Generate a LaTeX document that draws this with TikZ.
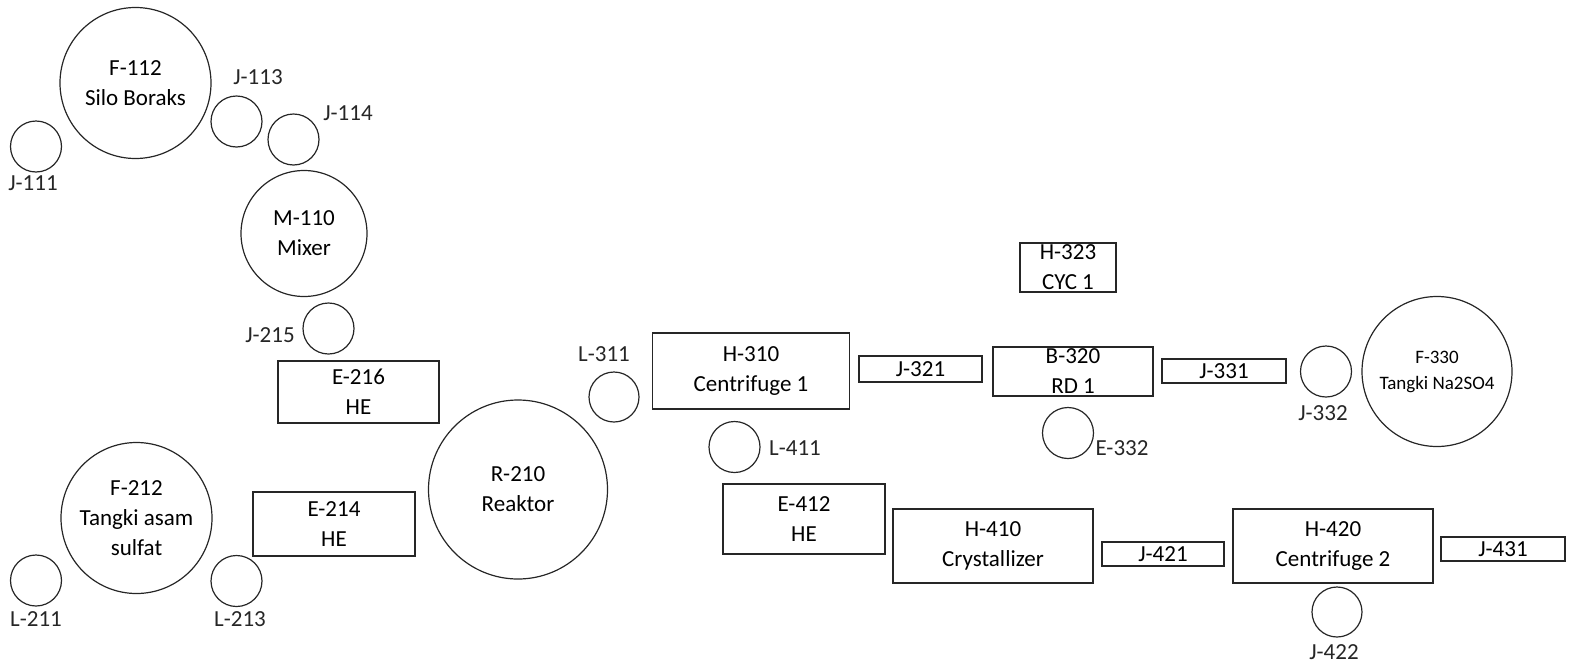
\documentclass[tikz,border=0pt]{standalone}
\usepackage{fontspec}
\setmainfont{Carlito}
\usepackage{tikz}

\newcommand{\eqfont}{\fontsize{23}{30}\selectfont}
\newcommand{\smallfont}{\fontsize{19}{26}\selectfont}

\begin{document}
\begin{tikzpicture}[
    x=1pt, y=-1pt,
    vessel/.style={circle, draw=black!85, line width=1.2pt, inner sep=0pt, align=center, font=\eqfont},
    pump/.style={circle, draw=black!85, line width=1.2pt, inner sep=0pt, minimum size=51pt},
    unit/.style={rectangle, draw=black!85, line width=1.2pt, inner sep=0pt, align=center, font=\eqfont},
    tag/.style={inner sep=0pt, font=\eqfont, text=black!85},
]
    \useasboundingbox (0,0) rectangle (1572,667);

    % Boraks feed
    \node[vessel, minimum size=151pt] (f112) at (135.5,83) {F-112\\Silo Boraks};
    \node[pump] (j111) at (36,146.5) {};
    \node[pump] (j113) at (236.5,121.5) {};
    \node[pump] (j114) at (293.5,139.5) {};
    \node[vessel, minimum size=126pt] (m110) at (304,233.5) {M-110\\Mixer};
    \node[pump] (j215) at (328.5,328.5) {};
    \node[unit, minimum width=161pt, minimum height=62pt] (e216) at (358.5,392) {E-216\\HE};

    % Acid feed
    \node[vessel, minimum size=151pt] (f212) at (136.5,518) {F-212\\Tangki asam\\sulfat};
    \node[pump] (l211) at (36,580.5) {};
    \node[pump] (l213) at (236.5,581) {};
    \node[unit, minimum width=162pt, minimum height=64pt] (e214) at (334,524) {E-214\\HE};

    % Reaction
    \node[vessel, minimum size=179pt] (r210) at (518,489.5) {R-210\\Reaktor};
    \node[pump, minimum size=50pt] (l311) at (614,397) {};

    % Separation and drying
    \node[unit, minimum width=197pt, minimum height=76pt] (h310) at (751,371) {H-310\\Centrifuge 1};
    \node[unit, minimum width=123pt, minimum height=26pt] (j321) at (920.5,369) {J-321};
    \node[unit, minimum width=96pt, minimum height=49pt] (h323) at (1068,267.5) {H-323\\CYC 1};
    \node[unit, minimum width=160pt, minimum height=49pt] (b320) at (1073,371.5) {B-320\\RD 1};
    \node[pump] (e332) at (1068,433) {};
    \node[unit, minimum width=124pt, minimum height=24pt] (j331) at (1224,371) {J-331};
    \node[pump] (j332) at (1326,371.5) {};
    \node[vessel, minimum size=150pt, font=\smallfont] (f330) at (1437,371.5) {F-330\\Tangki Na2SO4};

    % Crystallization
    \node[pump] (l411) at (734.5,447) {};
    \node[unit, minimum width=162pt, minimum height=70pt] (e412) at (804,519) {E-412\\HE};
    \node[unit, minimum width=200pt, minimum height=74pt] (h410) at (993,546) {H-410\\Crystallizer};
    \node[unit, minimum width=122pt, minimum height=24pt] (j421) at (1163,554) {J-421};
    \node[unit, minimum width=200pt, minimum height=74pt] (h420) at (1333,546) {H-420\\Centrifuge 2};
    \node[unit, minimum width=124pt, minimum height=24pt] (j431) at (1503,549) {J-431};
    \node[pump, minimum size=50pt] (j422) at (1337,612) {};

    % Tags
    \node[tag] (j111t) at (33,183) {J-111};
    \node[tag] (j113t) at (258,77) {J-113};
    \node[tag] (j114t) at (348,113) {J-114};
    \node[tag] (j215t) at (270,335) {J-215};
    \node[tag] (l211t) at (36,619) {L-211};
    \node[tag] (l213t) at (240,619) {L-213};
    \node[tag] (l311t) at (604,354) {L-311};
    \node[tag] (l411t) at (795,448) {L-411};
    \node[tag] (e332t) at (1122,448) {E-332};
    \node[tag] (j332t) at (1323,413) {J-332};
    \node[tag] (j422t) at (1334,652) {J-422};
\end{tikzpicture}
\end{document}
